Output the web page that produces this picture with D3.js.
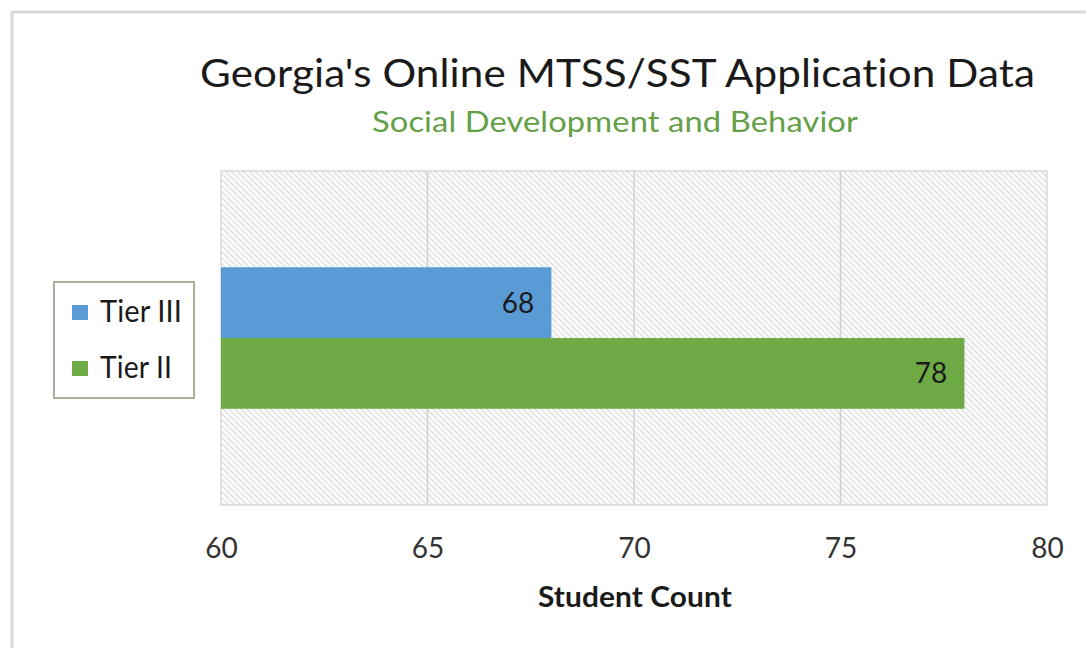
<!DOCTYPE html>
<html><head><meta charset="utf-8">
<script src="https://cdn.jsdelivr.net/npm/d3@7"></script>
<style>html,body{margin:0;padding:0;background:#fff;}svg{display:block;}text{font-variant-ligatures:none;font-feature-settings:"liga" 0, "clig" 0, "dlig" 0;letter-spacing:0.1px;}</style>
</head><body>
<svg id="c" width="1086" height="648"></svg>
<script>
const seriesNames = ["Tier III", "Tier II"];
const seriesValues = [68, 78];
const seriesColors = ["#5B9BD5", "#6EAB45"];
const xTicks = [60, 65, 70, 75, 80];
const category = ["Social Development and Behavior"];

const svg = d3.select("#c");
const font = "Lato, 'Open Sans', 'Noto Sans', sans-serif";

// outer frame lines
svg.append("line").attr("x1", 12).attr("x2", 1086).attr("y1", 12).attr("y2", 12).attr("stroke", "#d9d9d9").attr("stroke-width", 3);
svg.append("line").attr("x1", 12).attr("x2", 12).attr("y1", 12).attr("y2", 648).attr("stroke", "#d9d9d9").attr("stroke-width", 3);

const defs = svg.append("defs");
const pat = defs.append("pattern").attr("id", "hatch").attr("patternUnits", "userSpaceOnUse").attr("width", 6).attr("height", 6);
pat.append("rect").attr("width", 6).attr("height", 6).attr("fill", "#fbfbfb");
pat.append("path").attr("d", "M-1,-1 L7,7 M-4,2 L2,8 M4,-2 L8,2").attr("stroke", "#dadada").attr("stroke-width", 1.1);

const pL = 221, pR = 1047, pT = 171, pB = 505;
const x = d3.scaleLinear().domain([60, 80]).range([pL, pR]);
const yBand = d3.scaleBand().domain(category).range([pT, pB]).paddingInner(0).paddingOuter(0.68);
const ySub = d3.scaleBand().domain(seriesNames).range([0, yBand.bandwidth()]);

svg.append("rect").attr("x", pL).attr("y", pT).attr("width", pR - pL).attr("height", pB - pT)
  .attr("fill", "url(#hatch)").attr("stroke", "#d9d9d9").attr("stroke-width", 1.5);

// gridlines
svg.append("g").selectAll("line").data(xTicks.slice(1, -1)).join("line")
  .attr("x1", d => x(d)).attr("x2", d => x(d)).attr("y1", pT).attr("y2", pB)
  .attr("stroke", "#d0d0d0").attr("stroke-width", 1.5);

// axis
const axis = d3.axisBottom(x).tickValues(xTicks).tickSize(0).tickPadding(0);
const ax = svg.append("g").attr("transform", `translate(0,558)`).call(axis);
ax.select(".domain").remove();
ax.selectAll("text").attr("font-family", font).attr("font-size", 28).attr("fill", "#333").attr("dy", "0").attr("y", 0);

// bars
const g = svg.append("g").attr("transform", `translate(0,${yBand(category[0])})`);
g.selectAll("rect").data(seriesNames).join("rect")
  .attr("x", x(60)).attr("y", d => ySub(d)).attr("height", ySub.bandwidth())
  .attr("width", (d, i) => x(seriesValues[i]) - x(60)).attr("fill", (d, i) => seriesColors[i]);
g.selectAll("text").data(seriesNames).join("text")
  .attr("x", (d, i) => x(seriesValues[i]) - 17).attr("y", d => ySub(d) + ySub.bandwidth() / 2)
  .attr("dy", "0.36em").attr("text-anchor", "end").attr("font-family", font).attr("font-size", 28).attr("fill", "#1a1a1a")
  .text((d, i) => seriesValues[i]);

// titles
svg.append("text").attr("x", 200).attr("y", 87).attr("font-family", font)
  .attr("font-size", 38).attr("fill", "#1a1a1a").attr("textLength", 835).attr("lengthAdjust", "spacingAndGlyphs")
  .text("Georgia's Online MTSS/SST Application Data");
svg.append("text").attr("x", 372).attr("y", 132).attr("font-family", font)
  .attr("font-size", 28).attr("fill", "#63a047").attr("textLength", 486).attr("lengthAdjust", "spacingAndGlyphs")
  .text(category[0]);
svg.append("text").attr("x", 538).attr("y", 607).attr("font-family", font)
  .attr("font-size", 29).attr("font-weight", "bold").attr("fill", "#1a1a1a").attr("textLength", 194).attr("lengthAdjust", "spacingAndGlyphs")
  .text("Student Count");

// legend
const legendLens = [82, 72];
const lg = svg.append("g");
lg.append("rect").attr("x", 54).attr("y", 282).attr("width", 140).attr("height", 116).attr("fill", "#fff").attr("stroke", "#8a9a80").attr("stroke-width", 1.5);
const li = lg.selectAll("g").data(seriesNames).join("g").attr("transform", (d, i) => `translate(72,${312 + i * 56})`);
li.append("rect").attr("x", 0).attr("y", -7).attr("width", 16).attr("height", 15).attr("fill", (d, i) => seriesColors[i]);
li.append("text").attr("x", 28).attr("y", 10).attr("font-family", font).attr("font-size", 30).attr("fill", "#1a1a1a")
  .attr("textLength", (d, i) => legendLens[i]).attr("lengthAdjust", "spacingAndGlyphs").text(d => d);
</script>
</body></html>
